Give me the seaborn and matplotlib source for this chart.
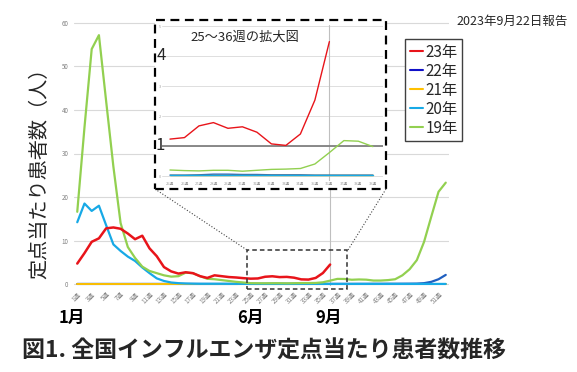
import matplotlib
matplotlib.use('Agg')
import matplotlib.pyplot as plt
import matplotlib.transforms as mtransforms
from matplotlib.patches import Rectangle
from matplotlib.lines import Line2D
import pandas as pd
import seaborn as sns

weeks = list(range(1, 53))
week_labels = [f"{w}週" for w in weeks]

y2023 = [4.7, 7.1, 9.7, 10.5, 12.8, 13.0, 12.7, 11.6, 10.3, 11.1,
         8.2, 6.4, 3.9, 2.9, 2.4, 2.7, 2.5, 1.8, 1.4, 2.0,
         1.8, 1.6, 1.5, 1.35, 1.23, 1.28, 1.67, 1.78, 1.59, 1.64,
         1.46, 1.07, 1.02, 1.40, 2.53, 4.48]
y2022 = [0.02, 0.02, 0.02, 0.02, 0.02, 0.02, 0.02, 0.02, 0.02, 0.02,
         0.02, 0.02, 0.02, 0.02, 0.02, 0.02, 0.02, 0.02, 0.02, 0.02,
         0.02, 0.02, 0.02, 0.03, 0.03, 0.03, 0.04, 0.06, 0.06, 0.05,
         0.05, 0.04, 0.04, 0.04, 0.03, 0.03, 0.03, 0.03, 0.03, 0.04,
         0.04, 0.05, 0.05, 0.06, 0.06, 0.07, 0.08, 0.1, 0.2, 0.5,
         1.1, 2.1]
y2021 = [0.02, 0.02, 0.02, 0.02, 0.02, 0.02, 0.02, 0.02, 0.02, 0.02,
         0.02, 0.02, 0.02, 0.02, 0.02, 0.02, 0.02, 0.02, 0.02, 0.02,
         0.02, 0.02, 0.02, 0.02, 0.02, 0.02, 0.02, 0.02, 0.02, 0.02,
         0.02, 0.02, 0.02, 0.02, 0.02, 0.02, 0.02, 0.02, 0.02, 0.02,
         0.02, 0.02, 0.02, 0.02, 0.02, 0.02, 0.02, 0.02, 0.02, 0.02,
         0.02, 0.02]
y2020 = [14.2, 18.5, 16.8, 18.0, 13.5, 9.1, 7.6, 6.3, 5.3, 3.8,
         2.5, 1.3, 0.7, 0.35, 0.2, 0.12, 0.08, 0.05, 0.05, 0.05,
         0.05, 0.04, 0.04, 0.03, 0.02, 0.02, 0.02, 0.02, 0.02, 0.02,
         0.02, 0.02, 0.02, 0.02, 0.02, 0.02, 0.02, 0.02, 0.02, 0.02,
         0.02, 0.02, 0.02, 0.02, 0.02, 0.02, 0.02, 0.02, 0.02, 0.02,
         0.02, 0.02]
y2019 = [16.6, 36.0, 54.0, 57.2, 42.0, 27.0, 14.0, 8.5, 6.0, 4.0,
         3.0, 2.5, 2.0, 1.7, 1.8, 2.6, 2.5, 1.8, 1.2, 1.1,
         0.9, 0.7, 0.5, 0.35, 0.20, 0.18, 0.17, 0.19, 0.19, 0.16,
         0.19, 0.22, 0.23, 0.25, 0.40, 0.78, 1.18, 1.16, 0.98, 1.05,
         1.0, 0.8, 0.8, 0.9, 1.1, 2.0, 3.4, 5.5, 9.7, 15.5,
         21.2, 23.3]

series_names = ["23年", "22年", "21年", "20年", "19年"]
series_values = [y2023, y2022, y2021, y2020, y2019]
colors = {"23年": "#E8141A", "22年": "#1F5FC0", "21年": "#FFC000",
          "20年": "#17A9E6", "19年": "#92D050"}
draw_order = ["22年", "21年", "20年", "19年", "23年"]
widths = {"23年": 1.8, "22年": 1.6, "21年": 1.4, "20年": 1.6, "19年": 1.6}

rows = []
for name, vals in zip(series_names, series_values):
    for w, v in zip(weeks, vals):
        rows.append({"week": w, "value": v, "year": name})
df = pd.DataFrame(rows)

sns.set_theme(style="white")
plt.rcParams['font.family'] = ['Noto Sans CJK JP', 'DejaVu Sans']

W, H = 577, 372
fig = plt.figure(figsize=(W / 100, H / 100), dpi=100)

def fx(px):
    return px / W

def fy(py):
    return 1 - py / H

# ---------- main axes ----------
ax = fig.add_axes([fx(74), fy(286.2), fx(449) - fx(74), fy(20.8) - fy(286.2)])
ax.set_xlim(0.55, 52.45)
ax.set_ylim(-0.5, 60.5)
ax.set_yticks(range(0, 61, 10))
ax.yaxis.grid(True, color="#D9D9D9", lw=0.8)
ax.xaxis.grid(False)
for s in ax.spines.values():
    s.set_visible(False)
ax.axvline(36, color="#BFBFBF", lw=0.8, zorder=1)

for name in draw_order:
    sub = df[df["year"] == name]
    sns.lineplot(data=sub, x="week", y="value", ax=ax, color=colors[name],
                 lw=widths[name], legend=False, zorder=3)

ax.set_xlabel("")
ax.set_ylabel("")
ax.set_xticks(weeks[::2])
ax.set_xticklabels(week_labels[::2], rotation=45, ha="right", va="top",
                   rotation_mode="anchor")
ax.tick_params(axis="x", length=0, labelsize=4.5, labelcolor="#808080", pad=3)
ax.tick_params(axis="y", length=0, labelsize=4.5, labelcolor="#808080", pad=4)

# selection rectangle + connectors
ax.add_patch(Rectangle((24.5, -1.15), 13.9, 8.95, fill=False, ls=(0, (3, 2)),
                       ec="#333333", lw=1.1, clip_on=False, zorder=4))
fig.add_artist(Line2D([fx(155), fx(247)], [fy(189), fy(250)], ls=":",
                      color="#444444", lw=0.8))
fig.add_artist(Line2D([fx(386), fx(348)], [fy(189), fy(250)], ls=":",
                      color="#444444", lw=0.8))

# month labels
btrans = mtransforms.blended_transform_factory(ax.transData, fig.transFigure)
for xpos, lab in [(0.3, "1月"), (24.9, "6月"), (35.8, "9月")]:
    ax.text(xpos, fy(318), lab, transform=btrans, ha="center", va="center",
            fontsize=12, fontweight="bold", color="black")

# ---------- inset ----------
fig.add_artist(Rectangle((fx(155), fy(189)), fx(386) - fx(155), fy(20) - fy(189),
                         transform=fig.transFigure, facecolor="white",
                         edgecolor="black", ls=(0, (4, 2.5)), lw=1.6, zorder=1.5))
iax = fig.add_axes([fx(162), fy(180.5), fx(383) - fx(162), fy(25.4) - fy(180.5)])
iax.set_zorder(2)
iax.set_facecolor("none")
iax.set_xlim(24.45, 39.7)
iax.set_ylim(-0.15, 5.02)
inset_yticks = [0, 1, 2, 3, 4, 5]
inset_ylabels = ["0", "", "2", "3", "", "5"]
iax.set_yticks(inset_yticks)
iax.set_yticklabels(inset_ylabels)
iax.yaxis.grid(True, color="#D9D9D9", lw=0.6)
iax.xaxis.grid(False)
for s in iax.spines.values():
    s.set_visible(False)
iax.axhline(1, color="#808080", lw=1.3, zorder=2)
iax.axvline(36, color="#BFBFBF", lw=0.8, zorder=1)
sub_in = df[(df["week"] >= 25) & (df["week"] <= 39)]
for name in draw_order:
    sub = sub_in[sub_in["year"] == name]
    sns.lineplot(data=sub, x="week", y="value", ax=iax, color=colors[name],
                 lw=1.0, legend=False, zorder=3)
iax.set_xlabel("")
iax.set_ylabel("")
iax.set_xticks(weeks[24:39])
iax.set_xticklabels(week_labels[24:39])
iax.tick_params(axis="x", length=0, labelsize=2.8, labelcolor="#A0A0A0", pad=1)
iax.tick_params(axis="y", length=0, labelsize=2.8, labelcolor="#A0A0A0", pad=1)

fig.text(fx(161), fy(56), "4", fontsize=12, ha="center", va="center", zorder=3)
fig.text(fx(160), fy(146), "1", fontsize=12, ha="center", va="center", zorder=3)
fig.text(fx(245), fy(37), "25～36週の拡大図", fontsize=9.5, ha="center",
         va="center", zorder=3)

# ---------- legend ----------
handles = [Line2D([0], [0], color=("#1010C8" if n == "22年" else colors[n]), lw=1.5)
           for n in series_names]
fig.legend(handles, series_names, loc="upper left",
           bbox_to_anchor=(fx(405), fy(39)), fontsize=11, frameon=True,
           fancybox=False, edgecolor="#404040", framealpha=1,
           handlelength=0.9, handletextpad=0.15, borderpad=0.3,
           labelspacing=0.13, borderaxespad=0)

# ---------- texts ----------
fig.text(fx(568), fy(21), "2023年9月22日報告", ha="right", va="center", fontsize=9)
fig.text(fx(40), fy(168), "定点当たり患者数（人）", rotation=90, fontsize=14.5,
         ha="center", va="center")
fig.text(fx(22), fy(351), "図1. 全国インフルエンザ定点当たり患者数推移",
         fontsize=16.5, fontweight="bold", ha="left", va="center")

fig.savefig("out.png", dpi=100, facecolor="white")
